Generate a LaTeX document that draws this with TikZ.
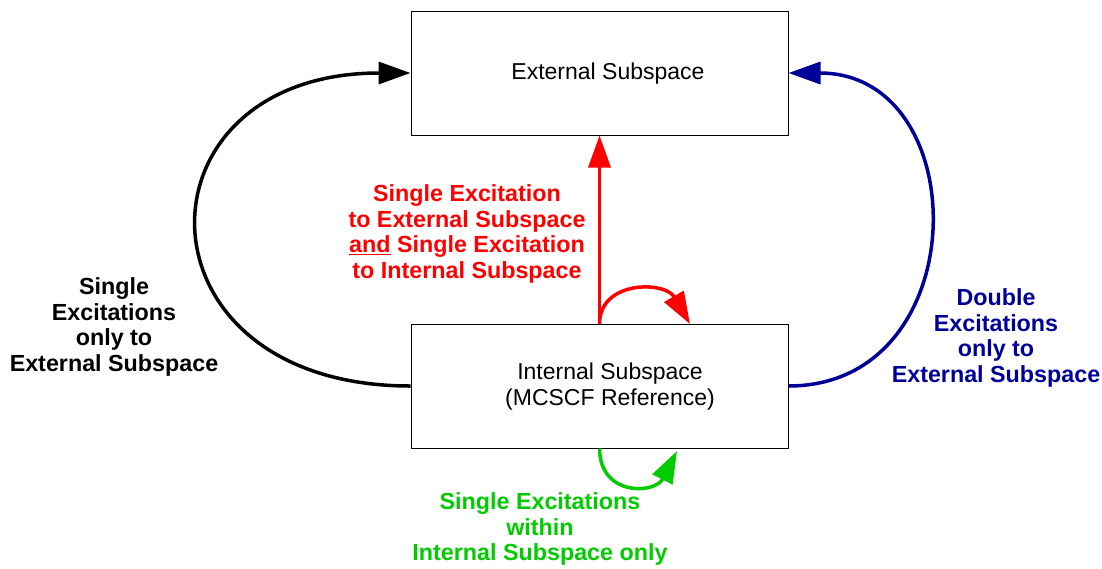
\documentclass[tikz,border=0pt]{standalone}
\usepackage{fontspec}
\setmainfont{Liberation Sans}
\usetikzlibrary{arrows.meta}
\definecolor{myred}{RGB}{255,0,0}
\definecolor{mygreen}{RGB}{0,204,0}
\definecolor{myblue}{RGB}{0,0,153}
\begin{document}
\begin{tikzpicture}[x=1pt,y=-1pt,
  box/.style={draw=black,line width=1pt,minimum width=377pt,minimum height=124pt,inner sep=0pt},
  boxtext/.style={font=\fontsize{23}{26}\selectfont,align=center,inner sep=0pt},
  lbl/.style={font=\fontsize{23.3}{25.8}\selectfont\bfseries,align=center,inner sep=0pt},
  conn/.style={line width=3.5pt,-{Triangle[length=32pt,width=22pt]}}]
\fill[white] (0,0) rectangle (1102,568);
\useasboundingbox (0,0) rectangle (1102,568);
\node[box] (ext) at (599.5,73) {};
\node[box] (int) at (599.5,386) {};
\node[boxtext] (exttext) at (608,73.5) {External Subspace};
\node[boxtext] (inttext) at (610,387) {Internal Subspace\\(MCSCF Reference)};
\coordinate (redend) at (690,324);
\coordinate (greenend) at (677,451);
% black
\draw[conn,black] (int.west) .. controls (128,386) and (128,73) .. (ext.west);
% blue
\draw[conn,myblue] (int.east) .. controls (976,386) and (976,73) .. (ext.east);
% red
\draw[conn,myred] (int.north) -- (ext.south);
\draw[conn,myred] (int.north) .. controls (600,280) and (665,281) .. (redend);
% green
\draw[conn,mygreen] (int.south) .. controls (600,497) and (655,494) .. (greenend);
% labels
\node[lbl,myred] (redlbl) at (467,234) {Single Excitation\\to External Subspace\\\underline{and} Single Excitation\\to Internal Subspace};
\node[lbl,black] (blacklbl) at (114,327) {Single\\Excitations\\only to\\External Subspace};
\node[lbl,myblue] (bluelbl) at (996,338) {Double\\Excitations\\only to\\External Subspace};
\node[lbl,mygreen] (greenlbl) at (540,529) {Single Excitations\\within\\Internal Subspace only};
\end{tikzpicture}
\end{document}
